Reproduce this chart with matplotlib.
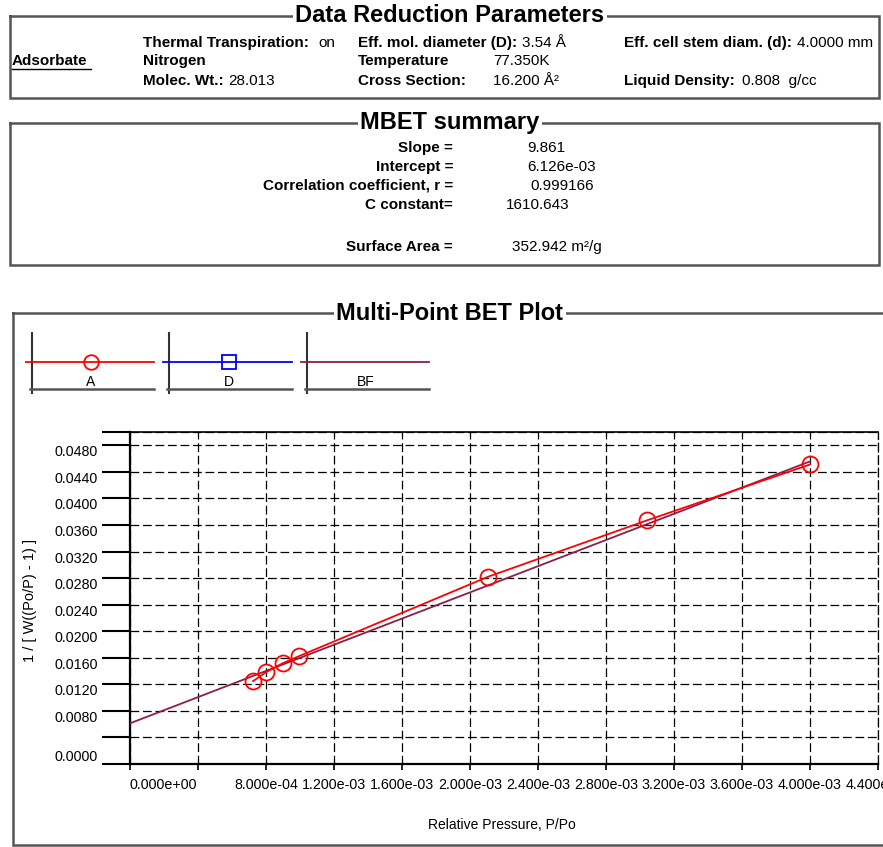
import matplotlib
matplotlib.use("Agg")
import matplotlib.pyplot as plt
import numpy as np

plt.rcParams['font.family'] = ['Liberation Sans', 'DejaVu Sans']

# BET data
rel_pressure = [0.000724, 0.000800, 0.000900, 0.000994, 0.002106, 0.003041, 0.004000]
bet_value = [0.01248, 0.01383, 0.01519, 0.01624, 0.02820, 0.03669, 0.04511]

# MBET fit
slope = 9.861
intercept = 6.126e-03

x_ticks = [0.0004 * i for i in range(12)]
y_ticks = [0.004 * i for i in range(13)] + [0.05]

W, H = 883, 847
fig = plt.figure(figsize=(W / 100, H / 100), dpi=100)

# background layer in pixel coordinates for the report boxes
bg = fig.add_axes([0, 0, 1, 1])
bg.set_xlim(0, W)
bg.set_ylim(H, 0)
bg.axis('off')

box_col = '#555555'


def box(x0, y0, x1, y1, title, tx, fs):
    bg.plot([x0, x1, x1, x0, x0], [y0, y0, y1, y1, y0], color=box_col, lw=1.8,
            solid_joinstyle='miter')
    bg.text(tx, y0, title, ha='center', va='center', fontsize=fs, fontweight='bold',
            bbox=dict(facecolor='white', edgecolor='none', pad=1.5))


# Data Reduction Parameters
box(10, 16, 879, 98, 'Data Reduction Parameters', 450, 17)
fs = 11
bg.text(143, 43, 'Thermal Transpiration:', fontsize=fs, fontweight='bold', va='center')
bg.text(318, 43, 'on', fontsize=fs, va='center')
bg.text(143, 61, 'Nitrogen', fontsize=fs, fontweight='bold', va='center')
bg.text(143, 81, 'Molec. Wt.:', fontsize=fs, fontweight='bold', va='center')
bg.text(228, 81, '28.013', fontsize=fs, va='center')
bg.text(12, 61, 'Adsorbate', fontsize=fs, fontweight='bold', va='center')
bg.plot([12, 91], [69, 69], color='black', lw=1)
bg.text(358, 43, 'Eff. mol. diameter (D):', fontsize=fs, fontweight='bold', va='center')
bg.text(522, 43, '3.54 Å', fontsize=fs, va='center')
bg.text(358, 61, 'Temperature', fontsize=fs, fontweight='bold', va='center')
bg.text(493, 61, '77.350K', fontsize=fs, va='center')
bg.text(358, 81, 'Cross Section:', fontsize=fs, fontweight='bold', va='center')
bg.text(493, 81, '16.200 Å²', fontsize=fs, va='center')
bg.text(624, 43, 'Eff. cell stem diam. (d):', fontsize=fs, fontweight='bold', va='center')
bg.text(797, 43, '4.0000 mm', fontsize=fs, va='center')
bg.text(624, 81, 'Liquid Density:', fontsize=fs, fontweight='bold', va='center')
bg.text(742, 81, '0.808  g/cc', fontsize=fs, va='center')

# MBET summary
box(10, 123, 879, 265, 'MBET summary', 450, 17)
labels = ['Slope =', 'Intercept =', 'Correlation coefficient, r =', 'C constant=', 'Surface Area =']
values = ['9.861', '6.126e-03', '0.999166', '1610.643', '352.942 m²/g']
rows_y = [148, 167, 186, 205, 247]
vals_x = [527, 527, 530, 506, 512]
for lab, val, yy, vx in zip(labels, values, rows_y, vals_x):
    bg.text(453, yy, lab, fontsize=fs, fontweight='bold', ha='right', va='center')
    bg.text(vx, yy, val, fontsize=fs, va='center')

# Multi-Point BET Plot frame
box(13, 313, 900, 845, 'Multi-Point BET Plot', 450, 17)

# legend panels
leg = [('A', 'red', 'o', 26, 154), ('D', 'blue', 's', 163, 292), ('BF', '#8c1d4d', None, 301, 429)]
for name, col, mk, lx0, lx1 in leg:
    bg.plot([lx0 + 6, lx0 + 6], [333, 393], color='#333333', lw=1.5)
    bg.plot([lx0 + 4, lx1], [389, 389], color='#555555', lw=1.8)
    bg.plot([lx0, lx1], [362, 362], color=col, lw=1.3)
    mx = (lx0 + lx1) / 2 + 1
    if mk:
        bg.plot([mx], [362], marker=mk, mfc='none', mec=col, ms=10.5, mew=1.3)
    bg.text(mx, 382, name, fontsize=10, ha='center', va='center')

# main plot
ax = fig.add_axes([130 / W, 1 - 764 / H, (878 - 130) / W, (764 - 432) / H])
ax.set_xlim(0, 0.0044)
ax.set_ylim(0, 0.05)

fit_x = np.array([0, max(rel_pressure)])
ax.plot(fit_x, intercept + slope * fit_x, color='#8c1d4d', lw=1.3, zorder=3)
ax.plot(rel_pressure, bet_value, color='red', lw=1.3, marker='o', ms=11.5,
        mfc='none', mec='red', mew=1.3, zorder=4)

ax.set_xticks(x_ticks)
xlabels = ['{:.3e}'.format(v) for v in x_ticks]
xlabels[1] = ''
ax.set_xticklabels(xlabels)
ax.set_yticks(y_ticks)
ylabels = ['{:.4f}'.format(v) for v in y_ticks]
ylabels[1] = ''
ylabels[-1] = ''
ax.set_yticklabels(ylabels)
ax.tick_params(axis='y', direction='out', length=20, width=1.5, pad=3, labelsize=10.3)
ax.tick_params(axis='x', direction='out', length=4, width=1.2, pad=6, labelsize=10.3)
for i, lbl in enumerate(ax.get_yticklabels()):
    lbl.set_va('bottom' if i == 0 else 'top')
ax.get_xticklabels()[0].set_ha('left')

ax.grid(True, color='black', lw=0.9, linestyle=(0, (7, 3)))
for s in ['left', 'bottom']:
    ax.spines[s].set_linewidth(1.6)
ax.spines['top'].set_linewidth(1.2)
ax.spines['right'].set_linestyle((0, (7, 3)))
ax.spines['right'].set_linewidth(0.9)

bg.text(30, 600, '1 / [ W((Po/P) - 1) ]', rotation=90, fontsize=10.5, ha='center', va='center')
bg.text(502, 825, 'Relative Pressure, P/Po', fontsize=10, ha='center', va='center')

fig.savefig('out.png', dpi=100)
